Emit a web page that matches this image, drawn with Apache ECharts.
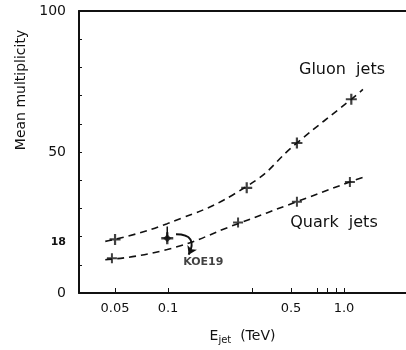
<!DOCTYPE html>
<html>
<head>
<meta charset="utf-8">
<script src="https://cdn.jsdelivr.net/npm/echarts@6/dist/echarts.min.js"></script>
<style>
  html, body { margin: 0; padding: 0; background: #fff; }
  #chart { width: 406px; height: 350px; }
</style>
</head>
<body>
<div id="chart"></div>
<script>
// values (E_jet in TeV, mean multiplicity)
const gluonPoints = [[0.05, 19.0], [0.28, 37.3], [0.54, 53.2], [1.1, 68.7]];
const quarkPoints = [[0.048, 12.3], [0.25, 25.0], [0.54, 32.4], [1.08, 39.4]];
const gluonCurve = [[0.044, 18.3], [0.099, 24.6], [0.28, 37.8], [0.54, 53.2], [1.1, 68.7], [1.28, 72.2]];
const quarkCurve = [[0.044, 11.8], [0.099, 15.4], [0.25, 24.6], [0.54, 32.4], [1.08, 39.4], [1.35, 41.5]];
const koePoint = [0.099, 19.4];
const koeErrorTop = 23.6;
const koeArrow = [[0.111, 20.8], [0.131, 13.6]];

const xLabelValues = [0.05, 0.1, 0.5, 1];
const xLabelTexts = ['0.05', '0.1', '0.5', '1.0'];
const xTickValues = [0.05, 0.1, 0.3, 0.5, 0.7, 0.8, 0.9, 1];
const yLabelValues = [0, 18, 50, 100];
const yTickValues = [10, 20, 30, 40, 50, 60, 70, 80, 90];

const FONT = 'DejaVu Sans';
const INK = '#111';
const plusPath = 'path://M4,0h2v4h4v2h-4v4h-2v-4h-4v-2h4z';

const chart = echarts.init(document.getElementById('chart'));

const option = {
  animation: false,
  backgroundColor: '#fff',
  grid: { left: 79, top: 11, right: 0, bottom: 55 },
  xAxis: [
    {
      type: 'log',
      logBase: 10,
      min: 0.0312,
      max: 2.25,
      axisLine: { lineStyle: { color: INK, width: 2 } },
      axisTick: { show: true, inside: true, length: 5, customValues: xTickValues, lineStyle: { color: INK } },
      axisLabel: {
        customValues: xLabelValues,
        margin: 9,
        color: INK,
        fontFamily: FONT,
        fontSize: 13,
        formatter: (v) => {
          const i = xLabelValues.findIndex((x) => Math.abs(x - v) < 1e-6);
          return i >= 0 ? xLabelTexts[i] : '';
        },
      },
      splitLine: { show: false },
      minorTick: { show: false },
      name: 'E{sub|jet}  (TeV)',
      nameLocation: 'middle',
      nameGap: 34,
      nameTextStyle: {
        color: INK,
        fontFamily: FONT,
        fontSize: 14,
        rich: { sub: { fontFamily: FONT, fontSize: 10, color: INK, padding: [8, 0, 0, 0] } },
      },
    },
    {
      type: 'value',
      position: 'top',
      min: 0,
      max: 1,
      axisLine: { show: true, lineStyle: { color: INK, width: 2 } },
      axisTick: { show: false },
      axisLabel: { show: false },
      splitLine: { show: false },
    },
  ],
  yAxis: {
    type: 'value',
    min: 0,
    max: 100,
    axisLine: { show: true, lineStyle: { color: INK, width: 2 } },
    axisTick: { show: true, inside: true, length: 3, customValues: yTickValues, lineStyle: { color: INK } },
    axisLabel: {
      customValues: yLabelValues,
      margin: 13,
      color: INK,
      fontFamily: FONT,
      fontSize: 14,
      formatter: (v) => (v === 18 ? '{s|18}' : String(v)),
      rich: { s: { fontFamily: FONT, fontSize: 11, fontWeight: 'bold', color: INK } },
    },
    splitLine: { show: false },
  },
  series: [
    {
      name: 'Gluon curve',
      type: 'line',
      data: gluonCurve,
      smooth: 0.5,
      showSymbol: false,
      lineStyle: { color: INK, width: 1.6, type: [7, 5] },
    },
    {
      name: 'Quark curve',
      type: 'line',
      data: quarkCurve,
      smooth: 0.5,
      showSymbol: false,
      lineStyle: { color: INK, width: 1.6, type: [7, 5] },
    },
    {
      name: 'Gluon jets',
      type: 'scatter',
      data: gluonPoints,
      symbol: plusPath,
      symbolSize: 11,
      itemStyle: { color: INK },
    },
    {
      name: 'Quark jets',
      type: 'scatter',
      data: quarkPoints,
      symbol: plusPath,
      symbolSize: 10,
      itemStyle: { color: INK },
    },
    {
      name: 'KOE19 error',
      type: 'line',
      data: [koePoint, [koePoint[0], koeErrorTop]],
      showSymbol: false,
      lineStyle: { color: INK, width: 1.5 },
    },
    {
      name: 'KOE19',
      type: 'scatter',
      data: [koePoint],
      symbol: plusPath,
      symbolSize: 12,
      itemStyle: { color: INK },
    },
    {
      name: 'KOE19 dot',
      type: 'scatter',
      data: [koePoint],
      symbol: 'diamond',
      symbolSize: 8,
      itemStyle: { color: INK },
      label: {
        show: true,
        formatter: 'KOE19',
        position: 'inside',
        offset: [36, 24],
        color: INK,
        fontFamily: FONT,
        fontSize: 11,
        fontWeight: 'bold',
      },
    },
    {
      name: 'KOE19 arrow',
      type: 'lines',
      coordinateSystem: 'cartesian2d',
      xAxisIndex: 0,
      yAxisIndex: 0,
      symbol: ['none', 'arrow'],
      symbolSize: 8,
      lineStyle: { color: INK, width: 2, curveness: 0.8, opacity: 1 },
      data: [{ coords: koeArrow }],
    },
  ],
  graphic: [
    {
      type: 'text',
      x: 21,
      y: 90,
      rotation: Math.PI / 2,
      style: {
        text: 'Mean multiplicity',
        fill: INK,
        font: '14px "DejaVu Sans"',
        textAlign: 'center',
        textVerticalAlign: 'middle',
      },
    },
    {
      type: 'text',
      x: 342,
      y: 70,
      style: {
        text: 'Gluon  jets',
        fill: INK,
        font: '16px "DejaVu Sans"',
        textAlign: 'center',
        textVerticalAlign: 'middle',
      },
    },
    {
      type: 'text',
      x: 334,
      y: 223,
      style: {
        text: 'Quark  jets',
        fill: INK,
        font: '16px "DejaVu Sans"',
        textAlign: 'center',
        textVerticalAlign: 'middle',
      },
    },
  ],
};

chart.setOption(option);
</script>
</body>
</html>
